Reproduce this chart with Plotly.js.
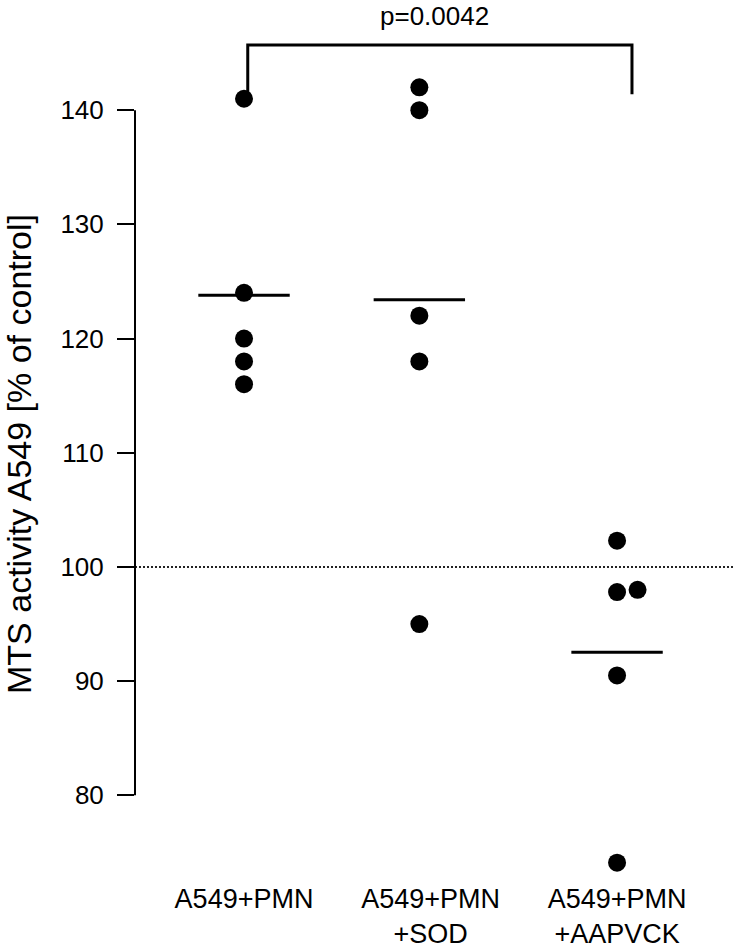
<!DOCTYPE html>
<html>
<head>
<meta charset="utf-8">
<script src="https://cdn.plot.ly/plotly-3.0.1.min.js"></script>
<style>
  html, body { margin: 0; padding: 0; background: #fff; }
  #chart { width: 734px; height: 950px; }
</style>
</head>
<body>
<div id="chart"></div>
<script>
// ---- data ----
const categories = ["A549+PMN", "A549+PMN<br>+SOD", "A549+PMN<br>+AAPVCK"];
const valuesPMN = [141, 124, 120, 118, 116];
const valuesSOD = [142, 140, 122, 118, 95];
const valuesAAPVCK = [102.3, 97.8, 98.0, 90.5, 74.1];
const yTickVals = [80, 90, 100, 110, 120, 130, 140];
const pValueText = "p=0.0042";
const referenceLevel = 100;

// ---- layout helpers (positions, not data) ----
const groupCenters = [1, 1.94, 3];
const jitter = [[0, 0, 0, 0, 0], [0, 0, 0, 0, 0], [0, 0, 0.11, 0, 0]];
const meanHalfWidth = 0.245;
const groups = [valuesPMN, valuesSOD, valuesAAPVCK];

const traces = [];
groups.forEach((vals, gi) => {
  traces.push({
    type: 'scatter', mode: 'markers',
    x: vals.map((v, i) => groupCenters[gi] + jitter[gi][i]),
    y: vals,
    marker: { color: '#000', size: 18, line: { width: 0 } },
    hoverinfo: 'y', showlegend: false, cliponaxis: false
  });
  const mean = vals.reduce((a, b) => a + b, 0) / vals.length;
  traces.push({
    type: 'scatter', mode: 'lines',
    x: [groupCenters[gi] - meanHalfWidth, groupCenters[gi] + meanHalfWidth],
    y: [mean, mean],
    line: { color: '#000', width: 3 },
    hoverinfo: 'skip', showlegend: false
  });
});

const font = "Liberation Sans, Arial, Helvetica, sans-serif";

const layout = {
  width: 734, height: 950,
  margin: { l: 135, r: 0, t: 30, b: 72 },
  paper_bgcolor: '#fff', plot_bgcolor: '#fff',
  font: { family: font, color: '#000' },
  showlegend: false,
  xaxis: {
    range: [0.4155, 3.627],
    tickmode: 'array', tickvals: [1, 2, 3], ticktext: categories,
    showline: false, showgrid: false, zeroline: false, ticks: '',
    tickfont: { size: 27, family: font, color: '#000' },
    ticklabelstandoff: 2
  },
  yaxis: {
    range: [72.76, 147.02],
    tickmode: 'array', tickvals: yTickVals,
    ticks: 'outside', ticklen: 17, tickwidth: 2, tickcolor: '#000',
    showline: false, showgrid: false, zeroline: false,
    tickfont: { size: 26, family: font, color: '#000' },
    ticklabelstandoff: 8,
    title: { text: 'MTS activity A549 [% of control]', font: { size: 34, family: font, color: '#000' }, standoff: 18 }
  },
  shapes: [
    { type: 'line', xref: 'paper', yref: 'y', x0: 0, x1: 0, y0: yTickVals[0], y1: yTickVals[yTickVals.length - 1],
      line: { color: '#000', width: 2 } },
    { type: 'line', xref: 'paper', yref: 'y', x0: 0, x1: 1, y0: referenceLevel, y1: referenceLevel,
      line: { color: '#222', width: 2, dash: '2px,2px' }, layer: 'below' },
    { type: 'path', xref: 'x', yref: 'y',
      path: 'M 1.02 141.4 L 1.02 145.7 L 3.08 145.7 L 3.08 141.4',
      line: { color: '#000', width: 3 } }
  ],
  annotations: [
    { text: pValueText, xref: 'x', yref: 'paper', x: 2.02, y: 1.0165, showarrow: false,
      font: { size: 26, family: font, color: '#000' }, xanchor: 'center', yanchor: 'middle' }
  ]
};

Plotly.newPlot('chart', traces, layout, { displayModeBar: false, staticPlot: true });
</script>
</body>
</html>
